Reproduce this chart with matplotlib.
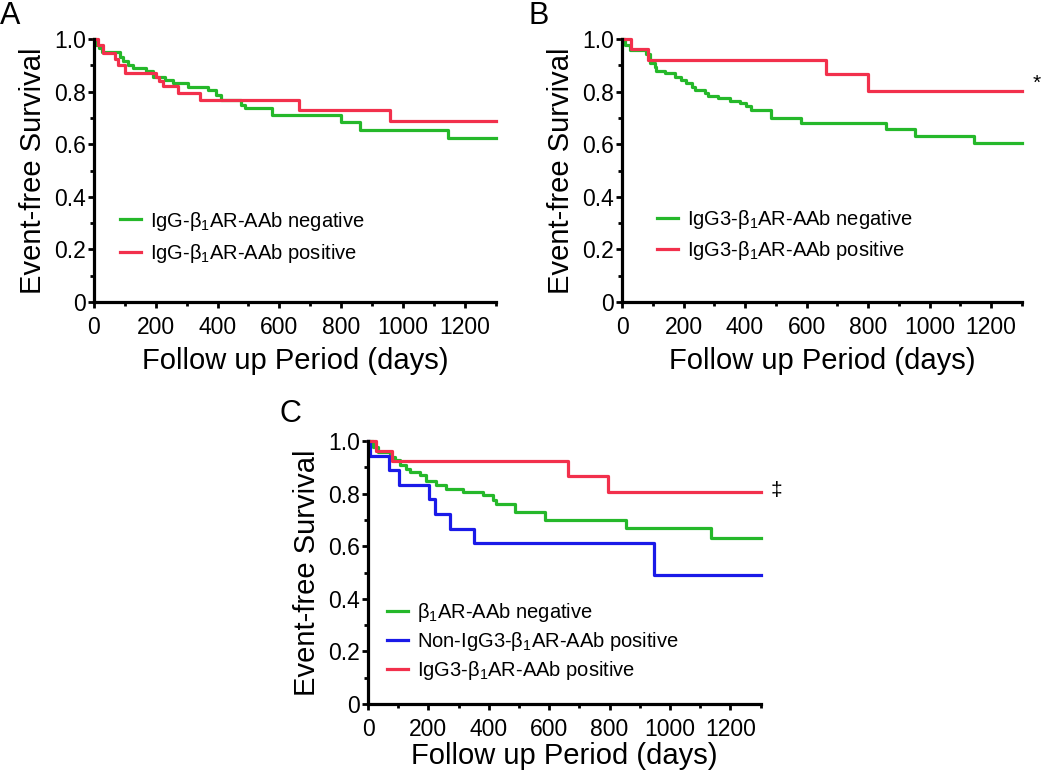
import matplotlib
matplotlib.use("Agg")
import matplotlib.pyplot as plt
from matplotlib.ticker import MultipleLocator, FixedLocator

plt.rcParams['font.family'] = ['Liberation Sans', 'DejaVu Sans']
plt.rcParams['mathtext.fontset'] = 'custom'
plt.rcParams['mathtext.rm'] = 'Liberation Sans'
plt.rcParams['mathtext.it'] = 'Liberation Sans:italic'
plt.rcParams['mathtext.bf'] = 'Liberation Sans:bold'

FOLLOW_UP_END = 1300

# panel A: IgG
a_neg_days = [0, 8, 16, 25, 83, 94, 110, 126, 169, 191, 229, 256, 304, 369, 396, 412, 477, 489, 575, 798, 860, 1145]
a_neg_surv = [1.0, 0.977, 0.965, 0.952, 0.933, 0.917, 0.901, 0.888, 0.879, 0.857, 0.844, 0.831, 0.818, 0.806,
              0.787, 0.768, 0.749, 0.736, 0.710, 0.685, 0.653, 0.625]
a_pos_days = [0, 13, 29, 69, 78, 99, 202, 212, 222, 272, 342, 663, 958]
a_pos_surv = [1.0, 0.977, 0.948, 0.923, 0.900, 0.872, 0.857, 0.840, 0.822, 0.796, 0.768, 0.730, 0.689]

# panel B: IgG3
b_neg_days = [0, 10, 25, 79, 90, 106, 112, 139, 171, 193, 209, 226, 236, 269, 280, 312, 350, 383, 404, 421,
              486, 583, 860, 953, 1145]
b_neg_surv = [1.0, 0.977, 0.958, 0.943, 0.907, 0.895, 0.879, 0.869, 0.857, 0.844, 0.831, 0.818, 0.808, 0.793,
              0.783, 0.774, 0.765, 0.755, 0.745, 0.730, 0.698, 0.679, 0.657, 0.630, 0.603]
b_pos_days = [0, 28, 85, 663, 800]
b_pos_surv = [1.0, 0.962, 0.920, 0.867, 0.803]

# panel C: three groups
c_neg_days = [0, 17, 33, 72, 88, 105, 127, 138, 171, 193, 226, 259, 315, 381, 414, 425, 486, 585, 855, 1135]
c_neg_surv = [1.0, 0.977, 0.958, 0.939, 0.927, 0.908, 0.895, 0.882, 0.870, 0.847, 0.834, 0.819, 0.806, 0.794,
              0.775, 0.762, 0.730, 0.699, 0.668, 0.633]
c_non3_days = [0, 8, 68, 102, 202, 223, 270, 350, 948]
c_non3_surv = [1.0, 0.944, 0.889, 0.833, 0.778, 0.722, 0.667, 0.611, 0.489]
c_igg3_days = [0, 28, 81, 663, 795]
c_igg3_surv = [1.0, 0.962, 0.923, 0.867, 0.806]

sub1 = r'$_{\mathregular{1}}$'
labels_a = ['IgG-β' + sub1 + 'AR-AAb negative', 'IgG-β' + sub1 + 'AR-AAb positive']
labels_b = ['IgG3-β' + sub1 + 'AR-AAb negative', 'IgG3-β' + sub1 + 'AR-AAb positive']
labels_c = ['β' + sub1 + 'AR-AAb negative', 'Non-IgG3-β' + sub1 + 'AR-AAb positive',
            'IgG3-β' + sub1 + 'AR-AAb positive']

GREEN = '#25b82a'
RED = '#f2304c'
BLUE = '#1a1ae8'


def km(ax, days, surv, color, label):
    x = list(days) + [FOLLOW_UP_END]
    y = list(surv) + [surv[-1]]
    ax.step(x, y, where='post', color=color, lw=2.3, label=label, clip_on=False)


def style(ax, xpad=6):
    ax.set_xlim(0, FOLLOW_UP_END)
    ax.set_ylim(0, 1.0)
    for s in ['top', 'right']:
        ax.spines[s].set_visible(False)
    for s in ['left', 'bottom']:
        ax.spines[s].set_linewidth(2.3)
    ax.xaxis.set_major_locator(FixedLocator([0, 200, 400, 600, 800, 1000, 1200]))
    ax.xaxis.set_minor_locator(MultipleLocator(100))
    ax.yaxis.set_major_locator(FixedLocator([0, 0.2, 0.4, 0.6, 0.8, 1.0]))
    ax.yaxis.set_minor_locator(MultipleLocator(0.1))
    ax.set_yticklabels(['0', '0.2', '0.4', '0.6', '0.8', '1.0'])
    ax.tick_params(which='major', direction='out', length=4, width=2, labelsize=16.5)
    ax.tick_params(which='minor', direction='out', length=3, width=2)
    ax.tick_params(axis='x', which='major', pad=6)
    ax.tick_params(axis='y', which='major', pad=2)
    ax.set_xlabel('Follow up Period (days)', fontsize=21, labelpad=xpad)
    ax.set_ylabel('Event-free Survival', fontsize=21, labelpad=5)


fig = plt.figure(figsize=(10.5, 7.74), dpi=100)

axA = fig.add_axes([0.0895, 0.6098, 0.3826, 0.3398])
km(axA, a_neg_days, a_neg_surv, GREEN, labels_a[0])
km(axA, a_pos_days, a_pos_surv, RED, labels_a[1])
style(axA)
axA.legend(loc='center left', bbox_to_anchor=(0.065, 0.247), frameon=False, fontsize=14.5,
           handlelength=1.05, handletextpad=0.45, labelspacing=0.45, borderpad=0, borderaxespad=0)

axB = fig.add_axes([0.5924, 0.6098, 0.3807, 0.3398])
km(axB, b_neg_days, b_neg_surv, GREEN, labels_b[0])
km(axB, b_pos_days, b_pos_surv, RED, labels_b[1])
style(axB)
axB.legend(loc='center left', bbox_to_anchor=(0.087, 0.255), frameon=False, fontsize=14.5,
           handlelength=1.05, handletextpad=0.45, labelspacing=0.36, borderpad=0, borderaxespad=0)
axB.text(1350, 0.83, '*', fontsize=15, ha='center', va='center')

axC = fig.add_axes([0.3505, 0.0904, 0.3739, 0.3398])
km(axC, c_neg_days, c_neg_surv, GREEN, labels_c[0])
km(axC, c_non3_days, c_non3_surv, BLUE, labels_c[1])
km(axC, c_igg3_days, c_igg3_surv, RED, labels_c[2])
style(axC, xpad=1)
axC.legend(loc='center left', bbox_to_anchor=(0.048, 0.238), frameon=False, fontsize=14.5,
           handlelength=1.05, handletextpad=0.45, labelspacing=0.3, borderpad=0, borderaxespad=0)
axC.text(1353, 0.81, '‡', fontsize=15, ha='center', va='center')

fig.text(0.0, 0.999, 'A', fontsize=22, ha='left', va='top')
fig.text(0.503, 0.999, 'B', fontsize=22, ha='left', va='top')
fig.text(0.266, 0.484, 'C', fontsize=22, ha='left', va='top')

fig.savefig('out.png', dpi=100)
